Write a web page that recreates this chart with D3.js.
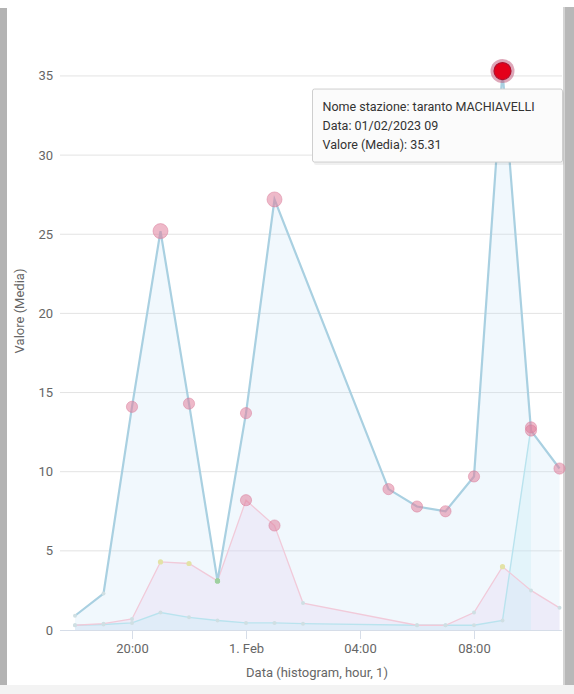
<!DOCTYPE html>
<html><head><meta charset="utf-8">
<script src="https://cdn.jsdelivr.net/npm/d3@7"></script>
<style>
html,body{margin:0;padding:0;background:#fff;}
svg{display:block;font-family:Roboto,"Noto Sans",Arial,sans-serif;}
</style></head>
<body>
<svg id="c" width="574" height="694"></svg>
<script>
// ---- data ----
const mainHours = ["2023-01-31 18:00","2023-01-31 19:00","2023-01-31 20:00","2023-01-31 21:00","2023-01-31 22:00","2023-01-31 23:00","2023-02-01 00:00","2023-02-01 01:00","2023-02-01 05:00","2023-02-01 06:00","2023-02-01 07:00","2023-02-01 08:00","2023-02-01 09:00","2023-02-01 10:00","2023-02-01 11:00"];
const mainValues = [0.9,2.3,14.1,25.2,14.3,3.1,13.7,27.2,8.9,7.8,7.5,9.7,35.31,12.6,10.2];

const pinkHours = ["2023-01-31 18:00","2023-01-31 19:00","2023-01-31 20:00","2023-01-31 21:00","2023-01-31 22:00","2023-01-31 23:00","2023-02-01 00:00","2023-02-01 01:00","2023-02-01 02:00","2023-02-01 06:00","2023-02-01 07:00","2023-02-01 08:00","2023-02-01 09:00","2023-02-01 10:00","2023-02-01 11:00"];
const pinkValues = [0.3,0.4,0.7,4.3,4.2,3.1,8.2,6.6,1.7,0.3,0.3,1.1,4.0,2.5,1.4];

const cyanHours = ["2023-01-31 18:00","2023-01-31 19:00","2023-01-31 20:00","2023-01-31 21:00","2023-01-31 22:00","2023-01-31 23:00","2023-02-01 00:00","2023-02-01 01:00","2023-02-01 02:00","2023-02-01 06:00","2023-02-01 07:00","2023-02-01 08:00","2023-02-01 09:00","2023-02-01 10:00"];
const cyanValues = [0.3,0.35,0.45,1.1,0.8,0.6,0.45,0.45,0.4,0.3,0.3,0.3,0.6,12.8];

const xTickHours = ["2023-01-31 20:00","2023-02-01 00:00","2023-02-01 04:00","2023-02-01 08:00"];
const xTickLabels = ["20:00","1. Feb","04:00","08:00"];
const yTicks = [0,5,10,15,20,25,30,35];

const hoverHour = "2023-02-01 09:00";
const tooltipLines = ["Nome stazione: taranto MACHIAVELLI","Data: 01/02/2023 09","Valore (Media): 35.31"];
const xTitle = "Data (histogram, hour, 1)";
const yTitle = "Valore (Media)";

// ---- setup ----
const parse = d3.timeParse("%Y-%m-%d %H:%M");
const svg = d3.select("#c");
const plotL = 60, plotR = 562, plotB = 630;

const x = d3.scaleTime()
  .domain([parse("2023-01-31 18:00"), parse("2023-02-01 11:00")])
  .range([75, 559.5]);
const y = d3.scaleLinear().domain([0, 35]).range([plotB, plotB - 35 * 15.83]);

const mk = (hours, vals) => hours.map((h, i) => ({t: parse(h), v: vals[i]}));
const mainData = mk(mainHours, mainValues);
const pinkData = mk(pinkHours, pinkValues);
const cyanData = mk(cyanHours, cyanValues);

// page chrome
svg.append("rect").attr("x",0).attr("y",0).attr("width",574).attr("height",694).attr("fill","#fff");
svg.append("rect").attr("x",0).attr("y",8).attr("width",7).attr("height",677).attr("fill","#b3b3b3");
svg.append("rect").attr("x",563).attr("y",7).attr("width",11).attr("height",678).attr("fill","#b8b8b8");
svg.append("rect").attr("x",563).attr("y",7).attr("width",2).attr("height",678).attr("fill","#d4d4d4");
svg.append("rect").attr("x",0).attr("y",685).attr("width",574).attr("height",9).attr("fill","#f3f3f3");

// grid
svg.append("g").selectAll("line").data(yTicks.filter(d => d > 0)).join("line")
  .attr("x1", plotL).attr("x2", plotR)
  .attr("y1", d => y(d)).attr("y2", d => y(d))
  .attr("stroke", "#e3e3e3").attr("stroke-width", 1);

// y labels
svg.append("g").selectAll("text").data(yTicks).join("text")
  .attr("x", 53).attr("y", d => y(d) + 4.5)
  .attr("text-anchor", "end").attr("font-size", 13).attr("fill", "#666")
  .text(d => d);

// areas
const area = d3.area().x(d => x(d.t)).y0(y(0)).y1(d => y(d.v));
const line = d3.line().x(d => x(d.t)).y(d => y(d.v));

svg.append("path").datum(mainData).attr("d", area).attr("fill", "rgba(190,225,244,0.22)");
svg.append("path").datum(pinkData).attr("d", area).attr("fill", "rgba(228,208,242,0.3)");
svg.append("path").datum(cyanData).attr("d", area).attr("fill", "rgba(195,234,246,0.3)");

// x axis
const xAxis = d3.axisBottom(x)
  .tickValues(xTickHours.map(parse))
  .tickFormat((d, i) => xTickLabels[i])
  .tickSizeOuter(0).tickSizeInner(9).tickPadding(5);
const gx = svg.append("g").attr("transform", `translate(0,${plotB})`).call(xAxis);
gx.select(".domain").remove();
gx.append("line").attr("x1", plotL).attr("x2", plotR).attr("y1", 0.5).attr("y2", 0.5).attr("stroke", "#d6dde8");
gx.selectAll(".tick line").attr("stroke", "#d6dde8");
gx.selectAll(".tick text").attr("font-size", 13).attr("fill", "#666").attr("font-family", "Roboto");

// lines
svg.append("path").datum(cyanData).attr("d", line).attr("fill", "none").attr("stroke", "#b9e3ee").attr("stroke-width", 1.4);
svg.append("path").datum(pinkData).attr("d", line).attr("fill", "none").attr("stroke", "#f1cad9").attr("stroke-width", 1.3);
svg.append("path").datum(mainData).attr("d", line).attr("fill", "none").attr("stroke", "#a9d0e1").attr("stroke-width", 2.2);

// markers: small dots for low values, pink circles for values >= 5
const smallColor = v => v >= 4 ? "#e3e2a6" : (v >= 3 ? "#9fd0a0" : "#cfdfe3");
function markers(data) {
  const lo = data.filter(d => d.v < 5);
  const hi = data.filter(d => d.v >= 5 && parse(hoverHour).getTime() !== d.t.getTime());
  svg.append("g").selectAll("circle").data(lo).join("circle")
    .attr("cx", d => x(d.t)).attr("cy", d => y(d.v))
    .attr("r", d => d.v >= 3 ? 2.6 : 2).attr("fill", d => smallColor(d.v));
  svg.append("g").selectAll("circle").data(hi).join("circle")
    .attr("cx", d => x(d.t)).attr("cy", d => y(d.v))
    .attr("r", d => d.v > 20 ? 7.5 : 5.6)
    .attr("fill", "rgba(224,128,156,0.55)").attr("stroke", "rgba(214,118,148,0.45)").attr("stroke-width", 1);
}
markers(cyanData);
markers(pinkData);
markers(mainData);

// hovered point
const hp = mainData.find(d => d.t.getTime() === parse(hoverHour).getTime());
svg.append("circle").attr("cx", x(hp.t)).attr("cy", y(hp.v)).attr("r", 12)
  .attr("fill", "rgba(190,80,115,0.5)");
svg.append("circle").attr("cx", x(hp.t)).attr("cy", y(hp.v)).attr("r", 8.5)
  .attr("fill", "#e4001a").attr("stroke", "#b0102e").attr("stroke-width", 1.2);

// tooltip
const tx = x(hp.t) - 190, ty = y(hp.v) + 18;
const tt = svg.append("g").attr("transform", `translate(${tx},${ty})`);
tt.append("rect").attr("x", 1.5).attr("y", 2).attr("width", 250).attr("height", 74).attr("rx", 2)
  .attr("fill", "rgba(0,0,0,0.06)");
tt.append("rect").attr("x", 0).attr("y", 0).attr("width", 250).attr("height", 73).attr("rx", 2)
  .attr("fill", "#fbfbfb").attr("stroke", "#cfcfcf").attr("stroke-width", 1);
tt.selectAll("text").data(tooltipLines).join("text")
  .attr("x", 10).attr("y", (d, i) => 22 + i * 19)
  .attr("font-size", 12.5).attr("fill", "#333")
  .text(d => d);

// axis titles
svg.append("text").attr("x", 317).attr("y", 677).attr("text-anchor", "middle")
  .attr("font-size", 13).attr("fill", "#666").text(xTitle);
svg.append("text").attr("transform", "translate(24,311) rotate(-90)").attr("text-anchor", "middle")
  .attr("font-size", 13).attr("fill", "#666").text(yTitle);
</script>
</body></html>
